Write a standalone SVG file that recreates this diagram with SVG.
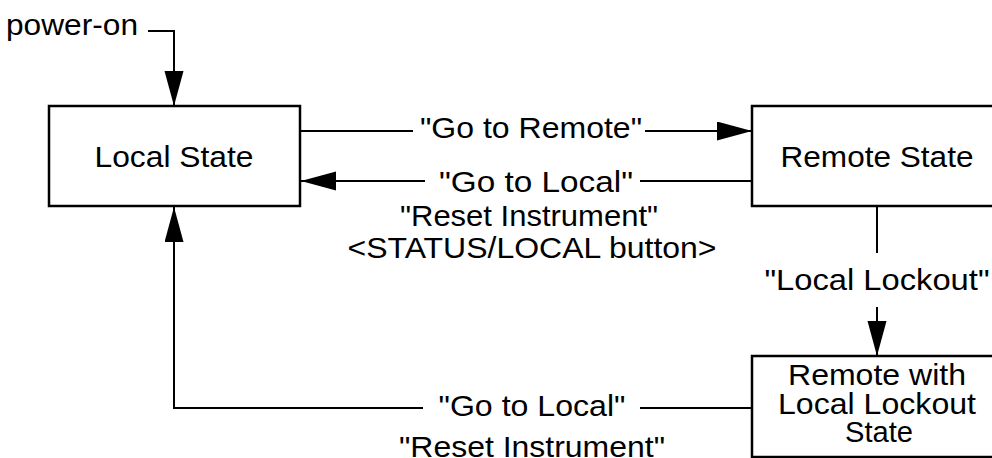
<svg xmlns="http://www.w3.org/2000/svg" width="992" height="458" viewBox="0 0 992 458">
<style>
.box{fill:#fff;stroke:#000;stroke-width:2.5}
.ln{fill:none;stroke:#000;stroke-width:2}
text{font-family:"Liberation Sans",Arial,sans-serif;font-size:29px;fill:#000;text-anchor:middle}
</style>
<defs>
<marker id="ah" markerUnits="userSpaceOnUse" markerWidth="36" markerHeight="20" refX="35" refY="9.5" orient="auto">
<path d="M0,0 L35,9.5 L0,19 z" fill="#000"/>
</marker>
</defs>
<rect width="992" height="458" fill="#fff"/>
<g id="connectors">
<polyline class="ln" points="148,31 174,31 174,106" marker-end="url(#ah)"/>
<line class="ln" x1="300" y1="131" x2="413" y2="131"/>
<line class="ln" x1="645" y1="131" x2="752" y2="131" marker-end="url(#ah)"/>
<line class="ln" x1="752" y1="181" x2="640" y2="181"/>
<line class="ln" x1="425" y1="181" x2="301" y2="181" marker-end="url(#ah)"/>
<line class="ln" x1="877" y1="206" x2="877" y2="253"/>
<line class="ln" x1="877" y1="307" x2="877" y2="356" marker-end="url(#ah)"/>
<line class="ln" x1="752" y1="408" x2="640" y2="408"/>
<polyline class="ln" points="423,408 174,408 174,207" marker-end="url(#ah)"/>
<text x="72" y="35" textLength="132" lengthAdjust="spacingAndGlyphs">power-on</text>
<text x="531" y="138" textLength="222" lengthAdjust="spacingAndGlyphs">"Go to Remote"</text>
<text x="536" y="192" textLength="194" lengthAdjust="spacingAndGlyphs">"Go to Local"</text>
<text x="529" y="226" textLength="258" lengthAdjust="spacingAndGlyphs">"Reset Instrument"</text>
<text x="532" y="258" textLength="369" lengthAdjust="spacingAndGlyphs">&lt;STATUS/LOCAL button&gt;</text>
<text x="877" y="290" textLength="225" lengthAdjust="spacingAndGlyphs">"Local Lockout"</text>
<text x="532" y="416" textLength="187" lengthAdjust="spacingAndGlyphs">"Go to Local"</text>
<text x="532" y="457" textLength="266" lengthAdjust="spacingAndGlyphs">"Reset Instrument"</text>
</g>
<g id="local">
<rect class="box" x="49" y="106" width="251" height="100"/>
<text x="174" y="167" textLength="159" lengthAdjust="spacingAndGlyphs">Local State</text>
</g>
<g id="remote">
<rect class="box" x="752" y="106" width="250" height="100"/>
<text x="877" y="167" textLength="193" lengthAdjust="spacingAndGlyphs">Remote State</text>
</g>
<g id="lockout">
<rect class="box" x="752" y="356" width="250" height="101"/>
<text x="877" y="385" textLength="178" lengthAdjust="spacingAndGlyphs">Remote with</text>
<text x="877" y="414" textLength="198" lengthAdjust="spacingAndGlyphs">Local Lockout</text>
<text x="879" y="442" textLength="68" lengthAdjust="spacingAndGlyphs">State</text>
</g>
</svg>
